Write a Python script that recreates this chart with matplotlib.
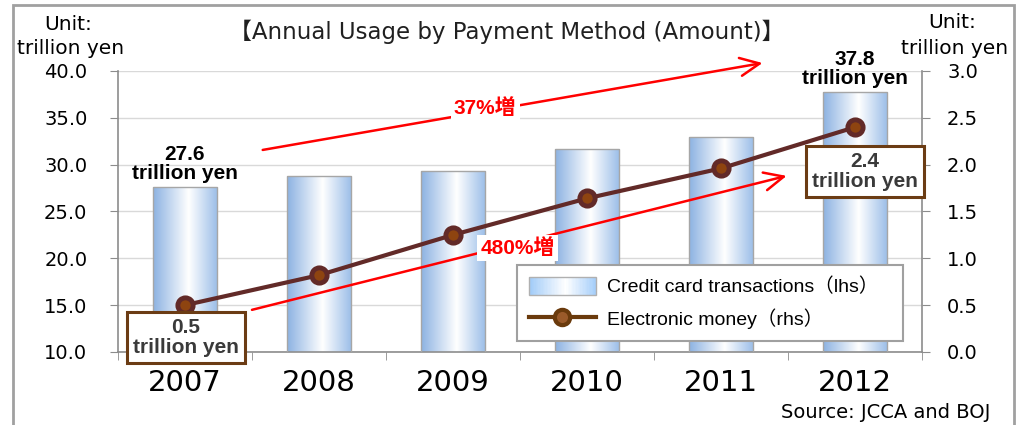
import matplotlib
matplotlib.use("Agg")
import numpy as np
import matplotlib.pyplot as plt
from matplotlib.patches import Rectangle
from matplotlib.lines import Line2D
from matplotlib.legend_handler import HandlerBase
from matplotlib.colors import LinearSegmentedColormap

plt.rcParams['font.family'] = ['DejaVu Sans', 'Noto Sans CJK JP']

# --- data -------------------------------------------------------------
years = ['2007', '2008', '2009', '2010', '2011', '2012']
credit_card = [27.6, 28.8, 29.3, 31.7, 32.9, 37.8]      # trillion yen (lhs)
e_money = [0.5, 0.82, 1.25, 1.64, 1.96, 2.4]            # trillion yen (rhs)
left_ticks = [10.0, 15.0, 20.0, 25.0, 30.0, 35.0, 40.0]
right_ticks = [0.0, 0.5, 1.0, 1.5, 2.0, 2.5, 3.0]
growth_labels = ['37%増', '480%増']

ARIAL = ['Liberation Sans', 'Noto Sans CJK JP']
LINE_C = '#622a28'
MARK_C = '#8e4410'
BOX_C = '#6b3c14'
AX_C = '#8c8c8c'

bar_cmap = LinearSegmentedColormap.from_list(
    'barfill', [(0.0, '#8cb2e2'), (0.55, '#ffffff'), (1.0, '#9abde8')])
legend_cmap = LinearSegmentedColormap.from_list(
    'legfill', [(0.0, '#9fcaf8'), (0.55, '#ffffff'), (1.0, '#a5cefa')])

fig = plt.figure(figsize=(10.17, 4.25), dpi=100)
ax = fig.add_axes([0.116, 0.1718, 0.7906, 0.6612])
x = np.arange(len(years))

# bars with a horizontal gradient fill
bars = ax.bar(x, np.array(credit_card) - left_ticks[0], bottom=left_ticks[0],
              width=0.48, facecolor='none', edgecolor='#a6a6a6', lw=1.0, zorder=3)
grad = np.linspace(0, 1, 256).reshape(1, -1)
for b in bars:
    im = ax.imshow(grad, extent=[b.get_x(), b.get_x() + b.get_width(),
                                 b.get_y(), b.get_y() + b.get_height()],
                   aspect='auto', cmap=bar_cmap, zorder=2, interpolation='bilinear')
    im.set_clip_path(b)

ax.set_xlim(-0.5, len(years) - 0.5)
ax.set_ylim(left_ticks[0], left_ticks[-1])
ax.set_yticks(left_ticks)
ax.set_yticklabels([f'{t:.1f}' for t in left_ticks])
ax.set_xticks(x)
ax.set_xticklabels(years)
ax.set_xticks(np.arange(-0.5, len(years), 1.0), minor=True)
ax.tick_params(axis='x', which='major', length=0, labelsize=21, pad=12)
ax.tick_params(axis='x', which='minor', length=6, color=AX_C, direction='out')
ax.tick_params(axis='y', length=6, color=AX_C, direction='out', labelsize=14, pad=16)
ax.yaxis.grid(True, color='#d9d9d9', lw=1.0)
ax.set_axisbelow(True)
for s in ['top', 'right']:
    ax.spines[s].set_visible(False)
for s in ['left', 'bottom']:
    ax.spines[s].set_color(AX_C)
    ax.spines[s].set_linewidth(1.2)

# electronic money line on the right axis
ax2 = ax.twinx()
ax2.set_ylim(right_ticks[0], right_ticks[-1])
ax2.set_yticks(right_ticks)
ax2.set_yticklabels([f'{t:.1f}' for t in right_ticks])
ax2.tick_params(axis='y', length=6, color=AX_C, direction='out', labelsize=14, pad=12)
for s in ['top', 'left', 'bottom']:
    ax2.spines[s].set_visible(False)
ax2.spines['right'].set_color(AX_C)
ax2.spines['right'].set_linewidth(1.2)
ax2.plot(x, e_money, color=LINE_C, lw=3, marker='o', ms=11,
         mfc=MARK_C, mec=LINE_C, mew=3.5, zorder=5)

# value labels for the first and last bar
for i in (0, len(years) - 1):
    ax2.annotate(f'{credit_card[i]}\ntrillion yen', xy=(x[i], credit_card[i]),
                 xycoords=ax.transData, xytext=(0, 4), textcoords='offset pixels',
                 ha='center', va='bottom', fontsize=15, fontweight='bold',
                 family=ARIAL, linespacing=1.0, color='black', zorder=7,
                 annotation_clip=False)

# boxed value labels for the electronic money line
for i, off in ((0, (1, -32)), (len(years) - 1, (10, -44))):
    ax2.annotate(f'{e_money[i]}\ntrillion yen', xy=(x[i], e_money[i]),
                 xytext=off, textcoords='offset pixels', ha='center', va='center',
                 fontsize=15, fontweight='bold', family=ARIAL, linespacing=1.05,
                 color='#3a3a3a', zorder=8, annotation_clip=False,
                 bbox=dict(boxstyle='square,pad=0.3', fc='white', ec=BOX_C, lw=2.2))

# growth arrows
arrow_kw = dict(arrowstyle='->,head_length=1.4,head_width=0.65', color='red',
                lw=1.8, shrinkA=0, shrinkB=0)
ax2.annotate('', xy=(4.31, 40.85), xytext=(0.58, 31.57), xycoords=ax.transData,
             textcoords=ax.transData, arrowprops=arrow_kw, annotation_clip=False)
ax2.annotate('', xy=(4.49, 28.8), xytext=(0.50, 14.5), xycoords=ax.transData,
             textcoords=ax.transData, arrowprops=arrow_kw, annotation_clip=False)
for (tx, ty), lab in zip([(2.24, 36.05), (2.48, 21.1)], growth_labels):
    ax2.text(tx, ty, lab, transform=ax.transData, ha='center', va='center',
             fontsize=15, fontweight='bold', color='red', family=ARIAL, zorder=6,
             bbox=dict(boxstyle='square,pad=0.15', fc='white', ec='none'))


class GradientHandler(HandlerBase):
    def create_artists(self, legend, orig_handle, xdescent, ydescent,
                       width, height, fontsize, trans):
        n = 48
        arts = []
        for k in range(n):
            r = Rectangle((-xdescent + k * width / n, -ydescent), width / n * 1.05,
                          height, fc=legend_cmap((k + 0.5) / n), ec='none',
                          transform=trans)
            arts.append(r)
        arts.append(Rectangle((-xdescent, -ydescent), width, height, fc='none',
                              ec='#b0b0b0', lw=1.0, transform=trans))
        return arts


bar_handle = Rectangle((0, 0), 1, 1)
line_handle = Line2D([], [], color='#6a3a0c', lw=3, marker='o', ms=11,
                     mfc='#9a5a2a', mec='#6a3a0c', mew=3)
leg = ax2.legend([bar_handle, line_handle],
                 ['Credit card transactions（lhs）', 'Electronic money（rhs）'],
                 handler_map={Rectangle: GradientHandler()},
                 loc='upper left', bbox_to_anchor=(0.5084, 0.3765, 0.3796, 0.0),
                 bbox_transform=fig.transFigure, mode='expand', borderaxespad=0,
                 prop={'family': ARIAL, 'size': 14},
                 handlelength=3.45, handleheight=1.1, handletextpad=0.6,
                 borderpad=0.6, labelspacing=0.6, fancybox=False,
                 framealpha=1, edgecolor='#a0a0a0')
leg.get_frame().set_linewidth(1.5)
leg.set_zorder(10)

# titles and unit notes
fig.text(0.4985, 0.925, '【Annual Usage by Payment Method (Amount)】',
         ha='center', va='center', fontsize=16.5, color='#202020')
fig.text(68 / 1017, 1 - 25 / 425, 'Unit:', ha='center', va='center', fontsize=14.5)
fig.text(71 / 1017, 1 - 49 / 425, 'trillion yen', ha='center', va='center', fontsize=14.5)
fig.text(952 / 1017, 1 - 23 / 425, 'Unit:', ha='center', va='center', fontsize=14.5)
fig.text(955 / 1017, 1 - 49 / 425, 'trillion yen', ha='center', va='center', fontsize=14.5)
fig.text(990 / 1017, 1 - 412 / 425, 'Source: JCCA and BOJ', ha='right',
         va='center', fontsize=14)

# outer frame
fig.patches.append(Rectangle((13 / 1017, -0.05), (1014 - 13) / 1017, 1.05 - 5 / 425,
                             transform=fig.transFigure, fill=False,
                             ec='#a0a0a0', lw=2))

fig.savefig('out.png', dpi=100)
